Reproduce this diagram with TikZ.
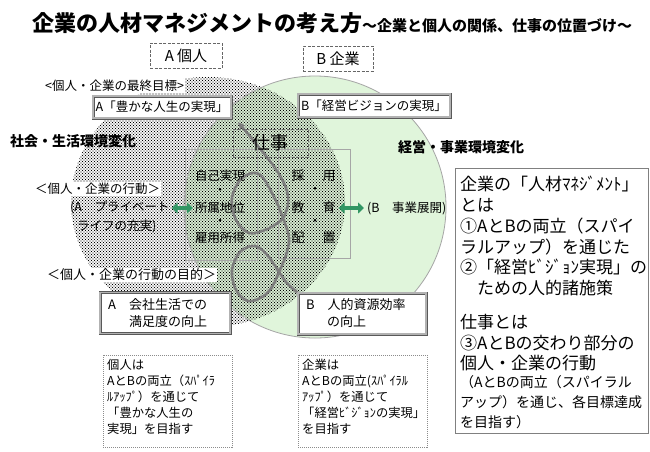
\documentclass[tikz,border=0pt]{standalone}
\usepackage{fontspec}
\setmainfont{Noto Sans CJK JP}
\usetikzlibrary{patterns,arrows.meta}
\pgfdeclarelayer{back}
\pgfdeclarelayer{mid}
\pgfsetlayers{back,mid,main}
\definecolor{bgreen}{RGB}{224,245,219}
\definecolor{circline}{RGB}{165,165,165}
\definecolor{arrgreen}{RGB}{50,150,100}
\definecolor{spiralgray}{RGB}{125,125,125}
\pgfdeclarepatternformonly{halftone}{\pgfqpoint{-1pt}{-1pt}}{\pgfqpoint{4pt}{4pt}}{\pgfqpoint{3pt}{3pt}}{%
  \pgfpathcircle{\pgfqpoint{0pt}{0pt}}{0.72pt}%
  \pgfpathcircle{\pgfqpoint{1.5pt}{1.5pt}}{0.72pt}%
  \pgfusepath{fill}}
\newcommand\fsz[1]{\fontsize{#1}{#1}\selectfont}
\begin{document}
\begin{tikzpicture}[x=1pt,y=-1pt,
  txt/.style={inner sep=0pt, anchor=west},
  ctxt/.style={inner sep=0pt},
  dashbox/.style={draw=black!60, dash pattern=on 3pt off 1.5pt, fill=white, line width=0.7pt, inner sep=0pt},
  workbox/.style={draw=black!60, dash pattern=on 3pt off 1.5pt, line width=0.7pt, inner sep=0pt},
  goalbox/.style={draw=black!65, double=black!30, double distance=1.8pt, line width=0.6pt, fill=white, inner sep=0pt},
  dotbox/.style={draw=black!45, dash pattern=on 1pt off 1pt, line width=0.7pt, fill=white, inner sep=0pt},
  infobox/.style={draw=black!50, line width=0.7pt, fill=white, inner sep=0pt},
  lblwhite/.style={inner sep=1pt, fill=white, anchor=west},
  spiral/.style={draw=spiralgray, line width=2.6pt, line cap=round, line join=round},
  garrow/.style={draw=arrgreen, line width=4pt, arrows={Triangle[length=6pt,width=11pt]-Triangle[length=6pt,width=11pt]}, shorten <=2pt, shorten >=2pt},
  grect/.style={draw=black!35, line width=0.6pt}
]
\begin{pgfonlayer}{back}
\fill[white] (0,0) rectangle (650,451);
\fill[bgreen] (315,207) circle[radius=131pt];
\fill[pattern=halftone, pattern color=black] (208,202) ellipse[x radius=137pt, y radius=125pt];
\draw[circline, line width=0.8pt] (315,207) circle[radius=131pt];
\draw[grect] (185,149) rectangle (257,260);
\draw[grect] (278,149) rectangle (350,258);
\end{pgfonlayer}
\useasboundingbox (0,0) rectangle (650,451);

% title
\node[anchor=base west, inner sep=0pt] (title) at (32,31) {{\fsz{22}\bfseries 企業の人材マネジメントの考え方}{\fsz{15}\bfseries ～企業と個人の関係、仕事の位置づけ～}};

% header boxes
\node[dashbox, minimum width=72pt, minimum height=25pt] (akojin) at (186,55.5) {\fsz{15}A 個人};
\node[dashbox, minimum width=70pt, minimum height=25pt] (bkigyo) at (338,58.5) {\fsz{15}B 企業};

% goals
\node[lblwhite] (lfinal) at (44,86) {\fsz{12.5}<個人・企業の最終目標>};
\node[goalbox, minimum width=138pt, minimum height=22pt] (agoal) at (162,107) {\fsz{12.5}A「豊かな人生の実現」};
\node[goalbox, minimum width=152pt, minimum height=23pt] (bgoal) at (374,105.5) {\fsz{12.5}B「経営ビジョンの実現」};

\node[txt] (shakai) at (10,141) {\fsz{14}\bfseries 社会・生活環境変化};
\node[txt] (keiei) at (398,147) {\fsz{14}\bfseries 経営・事業環境変化};
\node[workbox, minimum width=75pt, minimum height=28pt] (shigoto) at (270.5,143) {\fsz{18}仕事};

% actions
\node[lblwhite] (lact) at (34,189) {\fsz{12.5}＜個人・企業の行動＞};
\node[txt] (apriv) at (70,208) {\fsz{12.5}(A　プライベート};
\node[txt] (apriv2) at (77,226) {\fsz{12.5}ライフの充実)};
\node[txt] (jiko) at (195,176) {\fsz{12.5}自己実現};
\node[ctxt] (d1) at (220,191) {\fsz{12.5}・};
\node[txt] (shozoku) at (195,208) {\fsz{12.5}所属地位};
\node[ctxt] (d2) at (220,222) {\fsz{12.5}・};
\node[txt] (koyo) at (195,238) {\fsz{12.5}雇用所得};
\node[ctxt] (sai) at (298,176) {\fsz{13}採};
\node[ctxt] (you) at (329,176) {\fsz{13}用};
\node[ctxt] (kyo) at (298,208) {\fsz{13}教};
\node[ctxt] (iku) at (329,208) {\fsz{13}育};
\node[ctxt] (hai) at (298,238) {\fsz{13}配};
\node[ctxt] (chi) at (329,238) {\fsz{13}置};
\node[ctxt] (d3) at (315,190) {\fsz{12.5}・};
\node[ctxt] (d4) at (315,222) {\fsz{12.5}・};
\node[txt] (bjigyo) at (367,208) {\fsz{12.5}(B　事業展開)};

\draw[garrow] (apriv.east) -- (apriv.east -| shozoku.west);
\draw[garrow, shorten <=3pt, shorten >=3pt] (iku.east) -- (iku.east -| bjigyo.west);

% purposes
\node[lblwhite] (lpurp) at (46,275) {\fsz{13}＜個人・企業の行動の目的＞};
\node[goalbox, minimum width=130pt, minimum height=41pt] (apurpose) at (165,313) {};
\node[txt] (ap1) at (108,305) {\fsz{13}A　会社生活での};
\node[txt] (ap2) at (129,322) {\fsz{13}満足度の向上};
\node[goalbox, minimum width=128pt, minimum height=41pt] (bpurpose) at (362,313.5) {};
\node[txt] (bp1) at (306,305) {\fsz{13}B　人的資源効率};
\node[txt] (bp2) at (327,322) {\fsz{13}の向上};

% notes
\node[dotbox, minimum width=129pt, minimum height=92pt] (anote) at (167.5,401) {};
\node[txt] (an1) at (107,365) {\fsz{12.3}個人は};
\node[txt] (an2) at (107,381) {\fsz{12.3}AとBの両立（ｽﾊﾟｲﾗ};
\node[txt] (an3) at (107,397) {\fsz{12.3}ﾙｱｯﾌﾟ）を通じて};
\node[txt] (an4) at (107,413) {\fsz{12.3}「豊かな人生の};
\node[txt] (an5) at (107,429) {\fsz{12.3}実現」を目指す};
\node[dotbox, minimum width=129pt, minimum height=92pt] (bnote) at (362.5,401) {};
\node[txt] (bn1) at (302,365) {\fsz{12.3}企業は};
\node[txt] (bn2) at (302,381) {\fsz{12.3}AとBの両立(ｽﾊﾟｲﾗﾙ};
\node[txt] (bn3) at (302,397) {\fsz{12.3}ｱｯﾌﾟ）を通じて};
\node[txt] (bn4) at (302,413) {\fsz{12.3}「経営ﾋﾞｼﾞｮﾝの実現」};
\node[txt] (bn5) at (302,429) {\fsz{12.3}を目指す};

% info box
\node[infobox, minimum width=193pt, minimum height=265pt] (info) at (551.5,300.5) {};
\node[txt] (i1) at (460,184) {\fsz{17}企業の「人材ﾏﾈｼﾞﾒﾝﾄ」};
\node[txt] (i2) at (460,205) {\fsz{17}とは};
\node[txt] (i3) at (460,226) {\fsz{17}①AとBの両立（スパイ};
\node[txt] (i4) at (460,247) {\fsz{17}ラルアップ）を通じた};
\node[txt] (i5) at (460,267) {\fsz{17}②「経営ﾋﾞｼﾞｮﾝ実現」の};
\node[txt] (i6) at (460,288) {\fsz{17}　ための人的諸施策};
\node[txt] (i7) at (460,322) {\fsz{17}仕事とは};
\node[txt] (i8) at (460,343) {\fsz{17}③AとBの交わり部分の};
\node[txt] (i9) at (460,363) {\fsz{17}個人・企業の行動};
\node[txt] (i10) at (460,382) {\fsz{14}（AとBの両立（スパイラル};
\node[txt] (i11) at (460,402) {\fsz{14}アップ）を通じ、各目標達成};
\node[txt] (i12) at (460,422) {\fsz{14}を目指す）};

% spiral
\coordinate (tipA) at (238,122);
\begin{pgfonlayer}{mid}
\draw[spiral, arrows={-Stealth[length=8pt,width=7pt]}] plot[smooth, tension=0.6] coordinates {
 (bpurpose.north west) (287,283) (279,272) (268,256) (255,246) (240,252) (232,270) (236,290) (248,301) (262,297) (272,287) (279,272)
 (286,255) (289,238) (283,218) (273,195) (259,174) (242,178) (232,198) (236,220) (249,233) (265,230) (276,224) (283,218)
 (288,204) (286,188) (275,168) (257,145) (tipA)};
\end{pgfonlayer}
\end{tikzpicture}
\end{document}
